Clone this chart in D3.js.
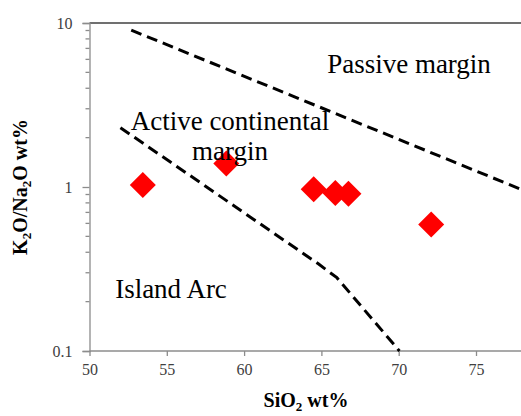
<!DOCTYPE html>
<html>
<head>
<meta charset="utf-8">
<script src="https://cdn.jsdelivr.net/npm/d3@7"></script>
<style>
  body { margin: 0; background: #fff; }
  svg text { font-family: "Liberation Serif", "Times New Roman", Times, "DejaVu Serif", serif; }
</style>
</head>
<body>
<div id="vis"></div>
<script>
// samples (SiO2 wt%, K2O/Na2O)
const sio2 = [53.45, 58.85, 64.5, 65.9, 66.75, 72.1];
const k2oNa2o = [1.03, 1.39, 0.97, 0.92, 0.91, 0.59];

// discrimination boundaries
const pmLineX = [52.7, 78];
const pmLineY = [9.05, 0.96];
const arcLineX = [52, 64.8, 66, 70.05];
const arcLineY = [2.3, 0.34, 0.28, 0.1];

const xTicks = [50, 55, 60, 65, 70, 75];
const yTicks = [0.1, 1, 10];

const width = 521, height = 416;
const margin = { top: 23, bottom: 65, left: 89.5 };
const serif = '"Liberation Serif", "Times New Roman", Times, "DejaVu Serif", serif';

let svg = d3.select("#vis")
  .append("svg")
  .attr("width", width)
  .attr("height", height);

let x_scale = d3.scaleLinear()
  .domain([50, 78])
  .range([margin.left, margin.left + 28 * 15.46]);

let y_scale = d3.scaleLog()
  .domain([0.1, 10])
  .range([height - margin.bottom, margin.top]);

// top border
svg.append("line")
  .attr("x1", x_scale(50)).attr("x2", width)
  .attr("y1", y_scale(10)).attr("y2", y_scale(10))
  .style("stroke", "#404040").style("stroke-width", 1.3);

// x axis
let xAxis = d3.axisBottom(x_scale)
  .tickValues(xTicks)
  .tickSize(5)
  .tickPadding(8)
  .tickFormat(d => d);

let gx = svg.append("g")
  .attr("transform", `translate(0, ${y_scale(0.1)})`)
  .call(xAxis);
gx.select(".domain").attr("d", `M${x_scale(50)},0H${width}`);

// y axis with minor log ticks
let minor = [];
[0.1, 1].forEach(b => { for (let i = 2; i <= 9; i++) minor.push(b * i); });

let yAxis = d3.axisLeft(y_scale)
  .tickValues(yTicks)
  .tickSize(7)
  .tickPadding(10)
  .tickFormat(d => d);

let gy = svg.append("g")
  .attr("transform", `translate(${x_scale(50)}, 0)`)
  .call(yAxis);

gy.selectAll("line.minor")
  .data(minor)
  .enter()
  .append("line")
  .attr("class", "minor")
  .attr("x1", -4).attr("x2", 0)
  .attr("y1", d => y_scale(d)).attr("y2", d => y_scale(d));

svg.selectAll("g").attr("font-family", null);
svg.selectAll(".domain, .tick line, line.minor")
  .style("stroke", "#8c8c8c").style("stroke-width", 1.3);
svg.selectAll(".tick text")
  .style("font-family", serif)
  .style("font-size", "16px")
  .style("fill", "#404040");

// boundary lines
let line = d3.line()
  .x(d => x_scale(d[0]))
  .y(d => y_scale(d[1]));

[[pmLineX, pmLineY], [arcLineX, arcLineY]].forEach(([xs, ys]) => {
  svg.append("path")
    .datum(xs.map((v, i) => [v, ys[i]]))
    .attr("d", line)
    .style("fill", "none")
    .style("stroke", "#000")
    .style("stroke-width", 3)
    .style("stroke-dasharray", "11,6");
});

// samples
svg.selectAll("path.sample")
  .data(sio2.map((v, i) => [v, k2oNa2o[i]]))
  .enter()
  .append("path")
  .attr("class", "sample")
  .attr("d", d3.symbol().type(d3.symbolSquare).size(338))
  .attr("transform", d => `translate(${x_scale(d[0])},${y_scale(d[1])}) rotate(45)`)
  .style("fill", "#ff0000");

// field labels
function fieldLabel(txt, x, y) {
  svg.append("text")
    .attr("x", x).attr("y", y)
    .style("text-anchor", "middle")
    .style("font-family", serif)
    .style("font-size", "27px")
    .style("fill", "#000")
    .text(txt);
}
fieldLabel("Passive margin", 409, 73);
fieldLabel("Active continental", 230, 130);
fieldLabel("margin", 230, 160);
fieldLabel("Island Arc", 171, 298);

// axis titles
let xt = svg.append("text")
  .attr("x", 306).attr("y", 407)
  .style("text-anchor", "middle")
  .style("font-family", serif)
  .style("font-weight", "bold")
  .style("font-size", "20px");
xt.append("tspan").text("SiO");
xt.append("tspan").attr("font-size", "13px").attr("dy", 4).text("2");
xt.append("tspan").attr("dy", -4).text(" wt%");

let yt = svg.append("text")
  .attr("transform", `translate(27, 187) rotate(-90)`)
  .style("text-anchor", "middle")
  .style("font-family", serif)
  .style("font-weight", "bold")
  .style("font-size", "20px");
yt.append("tspan").text("K");
yt.append("tspan").attr("font-size", "13px").attr("dy", 4).text("2");
yt.append("tspan").attr("dy", -4).text("O/Na");
yt.append("tspan").attr("font-size", "13px").attr("dy", 4).text("2");
yt.append("tspan").attr("dy", -4).text("O wt%");
</script>
</body>
</html>
